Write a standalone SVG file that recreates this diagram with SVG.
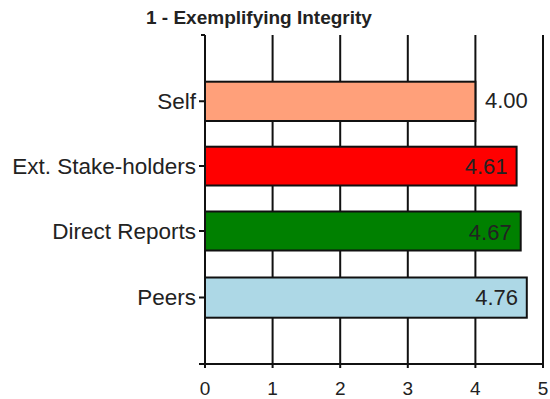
<svg xmlns="http://www.w3.org/2000/svg" width="550" height="399" viewBox="0 0 550 399">
<style>
.grid{stroke:#111;stroke-width:2;fill:none}
.bar{stroke:#111;stroke-width:2}
.lbl{font-family:"Liberation Sans",Arial,sans-serif;font-size:22.5px;fill:#222;text-anchor:end}
.val{font-family:"Liberation Sans",Arial,sans-serif;font-size:22px;fill:#222}
.tick{font-family:"Liberation Sans",Arial,sans-serif;font-size:19px;fill:#222;text-anchor:middle}
.title{font-family:"Liberation Sans",Arial,sans-serif;font-size:19px;font-weight:bold;fill:#222}
</style>
<rect width="550" height="399" fill="#fff"/>
<text class="title" x="146" y="24">1 - Exemplifying Integrity</text>
<g id="axes">
<path class="grid" d="M272.6 35V368M340.2 35V368M407.8 35V368M475.4 35V368M543 35V368"/>
<path class="grid" d="M205 35V368M201 35H205M199 364H543M199 101.3H205M199 166.1H205M199 231H205M199 297.6H205"/>
<text class="tick" x="205" y="395">0</text>
<text class="tick" x="272.6" y="395">1</text>
<text class="tick" x="340.2" y="395">2</text>
<text class="tick" x="407.8" y="395">3</text>
<text class="tick" x="475.4" y="395">4</text>
<text class="tick" x="543" y="395">5</text>
</g>
<g id="self">
<rect class="bar" x="205" y="81.7" width="270.4" height="39.3" fill="#FFA07A"/>
<text class="lbl" x="196" y="108.5">Self</text>
<text class="val" x="485" y="108">4.00</text>
</g>
<g id="ext">
<rect class="bar" x="205" y="146.7" width="311.6" height="38.8" fill="#FF0000"/>
<text class="lbl" x="196" y="174.3">Ext. Stake-holders</text>
<text class="val" x="507.5" y="174.3" text-anchor="end">4.61</text>
</g>
<g id="direct">
<rect class="bar" x="205" y="211.5" width="315.7" height="39" fill="#008000"/>
<text class="lbl" x="196" y="239">Direct Reports</text>
<text class="val" x="511.7" y="240" text-anchor="end">4.67</text>
</g>
<g id="peers">
<rect class="bar" x="205" y="277.5" width="321.8" height="40.2" fill="#ADD8E6"/>
<text class="lbl" x="196" y="305">Peers</text>
<text class="val" x="518" y="305" text-anchor="end">4.76</text>
</g>
</svg>
